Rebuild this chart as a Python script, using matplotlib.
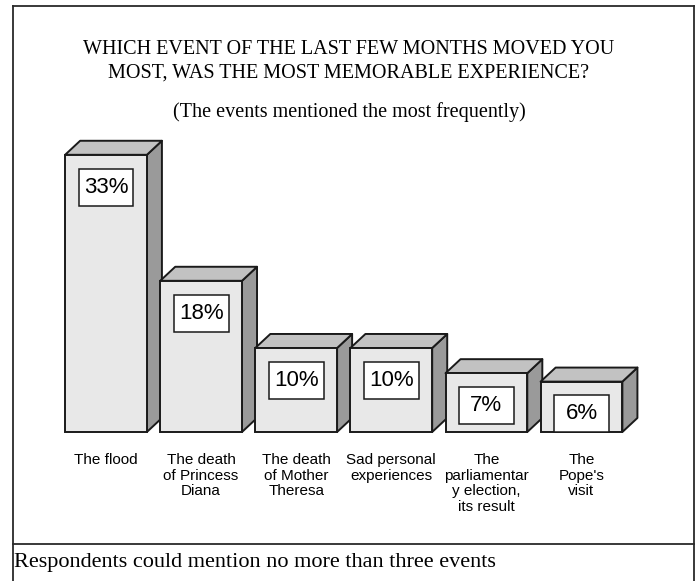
import matplotlib
matplotlib.use("Agg")
import matplotlib.pyplot as plt
from matplotlib.patches import Polygon, Rectangle
from matplotlib.lines import Line2D

events = ["The flood",
          "The death\nof Princess\nDiana",
          "The death\nof Mother\nTheresa",
          "Sad personal\nexperiences",
          "The\nparliamentar\ny election,\nits result",
          "The\nPope's\nvisit"]
shares = [33, 18, 10, 10, 7, 6]
share_labels = ["33%", "18%", "10%", "10%", "7%", "6%"]

FRONT = "#e8e8e8"
SIDE = "#9a9a9a"
TOP = "#c2c2c2"
EDGE = "#1a1a1a"

W, H = 698, 581
fig = plt.figure(figsize=(W / 100, H / 100), dpi=100)

# bar area: one unit per bar on x, percent on y
ax = fig.add_axes([58.45 / W, 149 / H, 570.6 / W, 294 / H])
ax.set_xlim(-0.5, 5.5)
ax.set_ylim(0, 35)
ax.axis("off")

bw = 0.86              # front face width
dx, dy = 0.158, 1.67   # depth offset
box_w, box_h = 0.578, 4.4
box_gap = 3.85

for i, (v, lab) in enumerate(zip(shares, share_labels)):
    l, r = i - bw / 2, i + bw / 2
    front = Rectangle((l, 0), bw, v, facecolor=FRONT, edgecolor=EDGE,
                      linewidth=1.4, clip_on=False, zorder=3)
    side = Polygon([(r, 0), (r + dx, dy), (r + dx, v + dy), (r, v)],
                   closed=True, facecolor=SIDE, edgecolor=EDGE,
                   linewidth=1.4, clip_on=False, zorder=2, joinstyle="round")
    top = Polygon([(l, v), (l + dx, v + dy), (r + dx, v + dy), (r, v)],
                  closed=True, facecolor=TOP, edgecolor=EDGE,
                  linewidth=1.4, clip_on=False, zorder=2, joinstyle="round")
    ax.add_patch(side)
    ax.add_patch(top)
    ax.add_patch(front)

    cy = v - box_gap
    ax.add_patch(Rectangle((i - box_w / 2, cy - box_h / 2), box_w, box_h,
                           facecolor="white", edgecolor=EDGE, linewidth=1.1,
                           clip_on=False, zorder=4))
    ax.text(i, cy, lab, ha="center", va="center", fontsize=16,
            family="Liberation Sans", zorder=5)

    ax.text(i, -2.5, events[i], ha="center", va="top", fontsize=11,
            family="Liberation Sans", linespacing=1.15)

# titles
fig.text(0.5, 1 - 50 / H, "WHICH EVENT OF THE LAST FEW MONTHS MOVED YOU",
         ha="center", va="center", fontsize=14.5, family="Liberation Serif")
fig.text(0.5, 1 - 73 / H, "MOST, WAS THE MOST MEMORABLE EXPERIENCE?",
         ha="center", va="center", fontsize=14.5, family="Liberation Serif")
fig.text(0.5, 1 - 112 / H, "(The events mentioned the most frequently)",
         ha="center", va="center", fontsize=14.5, family="Liberation Serif")

fig.text(14 / W, 1 - 563 / H,
         "Respondents could mention no more than three events",
         ha="left", va="center", fontsize=16, family="Liberation Serif")

# frame around the chart and the note
x0, x1 = 12.5 / W, 694 / W
y_top, y_sep = 1 - 5.5 / H, 1 - 544 / H
for xs, ys in [([x0, x0], [0, y_top]), ([x1, x1], [0, y_top]),
               ([x0, x1], [y_top, y_top]), ([x0, x1], [y_sep, y_sep])]:
    fig.add_artist(Line2D(xs, ys, color="#2a2a2a", linewidth=1.3,
                          transform=fig.transFigure))

fig.savefig("out.png", dpi=100, facecolor="white")
